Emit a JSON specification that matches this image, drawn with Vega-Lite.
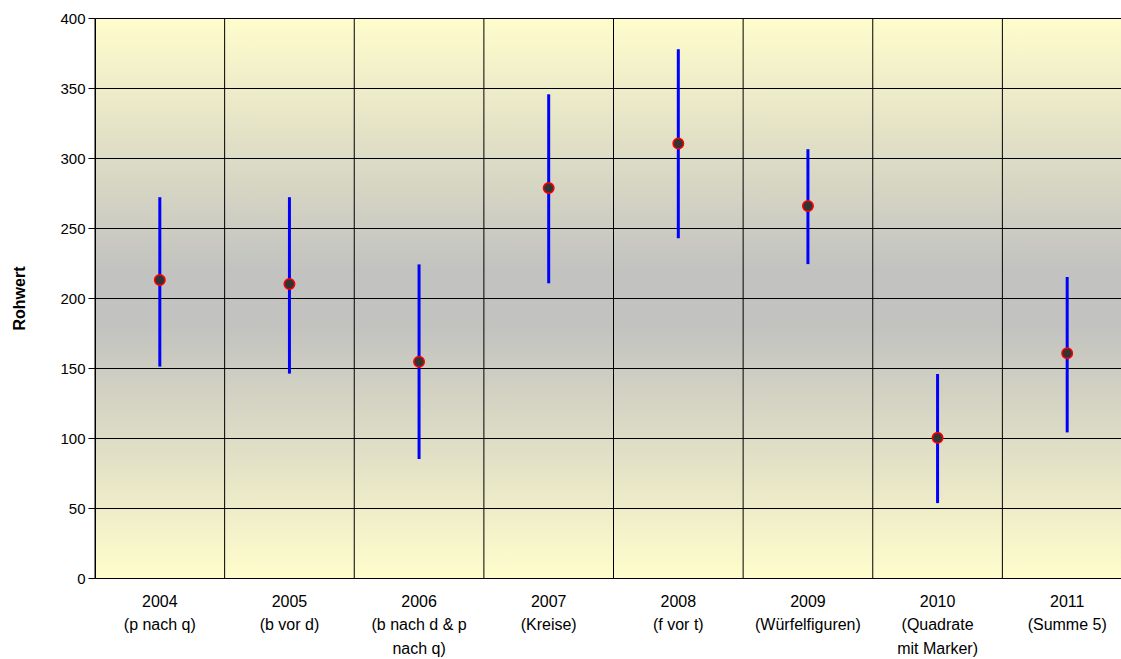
{
  "$schema": "https://vega.github.io/schema/vega-lite/v6.json",
  "width": 1037,
  "height": 560,
  "autosize": "none",
  "padding": {"left": 95, "top": 18, "right": 0, "bottom": 81},
  "background": "white",
  "config": {
    "font": "Liberation Sans",
    "view": {
      "stroke": null,
      "fill": {
        "gradient": "linear",
        "x1": 0, "y1": 0, "x2": 0, "y2": 1,
        "stops": [
          {"offset": 0, "color": "#FFFDCC"},
          {"offset": 0.45, "color": "#C2C2C0"},
          {"offset": 0.55, "color": "#C2C2C0"},
          {"offset": 1, "color": "#FFFDCC"}
        ]
      }
    },
    "axis": {"labelFont": "Liberation Sans", "titleFont": "Liberation Sans", "labelColor": "#000000", "titleColor": "#000000"}
  },
  "data": {
    "values": [
      {"cat": "2004", "label": "2004|(p nach q)", "mean": 212.8, "low": 151, "high": 272},
      {"cat": "2005", "label": "2005|(b vor d)", "mean": 210, "low": 146, "high": 272},
      {"cat": "2006", "label": "2006|(b nach d & p|nach q)", "mean": 154.5, "low": 85, "high": 224},
      {"cat": "2007", "label": "2007|(Kreise)", "mean": 278.5, "low": 210.5, "high": 345.5},
      {"cat": "2008", "label": "2008|(f vor t)", "mean": 310.3, "low": 242.7, "high": 377.7},
      {"cat": "2009", "label": "2009|(Würfelfiguren)", "mean": 265.7, "low": 224.2, "high": 306.3},
      {"cat": "2010", "label": "2010|(Quadrate|mit Marker)", "mean": 100.1, "low": 53.5, "high": 145.7},
      {"cat": "2011", "label": "2011|(Summe 5)", "mean": 160.5, "low": 104, "high": 215}
    ]
  },
  "encoding": {
    "x": {
      "field": "label",
      "type": "nominal",
      "sort": null,
      "scale": {"paddingInner": 0, "paddingOuter": 0},
      "axis": {
        "title": null,
        "labelAngle": 0,
        "labelExpr": "split(datum.label, '|')",
        "labelFontSize": 16,
        "labelLineHeight": 23.5,
        "labelPadding": 15,
        "labelBaseline": "top",
        "ticks": false,
        "grid": false,
        "domainColor": "#000000",
        "domainWidth": 1
      }
    }
  },
  "layer": [
    {
      "mark": {"type": "rule", "color": "#000000", "strokeWidth": 1},
      "encoding": {
        "x": {"field": "label", "type": "nominal", "sort": null, "bandPosition": 0},
        "y": {
          "datum": 0,
          "type": "quantitative",
          "scale": {"domain": [0, 400], "nice": false},
          "axis": {
            "title": "Rohwert",
            "titleFontSize": 16,
            "titleFontWeight": "bold",
            "titlePadding": 32,
            "labelFontSize": 15,
            "labelPadding": 3,
            "values": [0, 50, 100, 150, 200, 250, 300, 350, 400],
            "labelOverlap": false,
            "tickColor": "#000000",
            "tickSize": 7,
            "domainColor": "#000000",
            "grid": true,
            "gridColor": "#000000",
            "gridOpacity": 1,
            "gridWidth": 1
          }
        },
        "y2": {"datum": 400}
      }
    },
    {
      "mark": {"type": "rule", "color": "#0000FF", "strokeWidth": 3},
      "encoding": {
        "y": {"field": "low", "type": "quantitative", "scale": {"domain": [0, 400], "nice": false}},
        "y2": {"field": "high"}
      }
    },
    {
      "mark": {"type": "point", "filled": true, "fill": "#333333", "stroke": "#FF0000", "strokeWidth": 1.5, "size": 110, "opacity": 1},
      "encoding": {
        "y": {"field": "mean", "type": "quantitative", "scale": {"domain": [0, 400], "nice": false}}
      }
    }
  ]
}
